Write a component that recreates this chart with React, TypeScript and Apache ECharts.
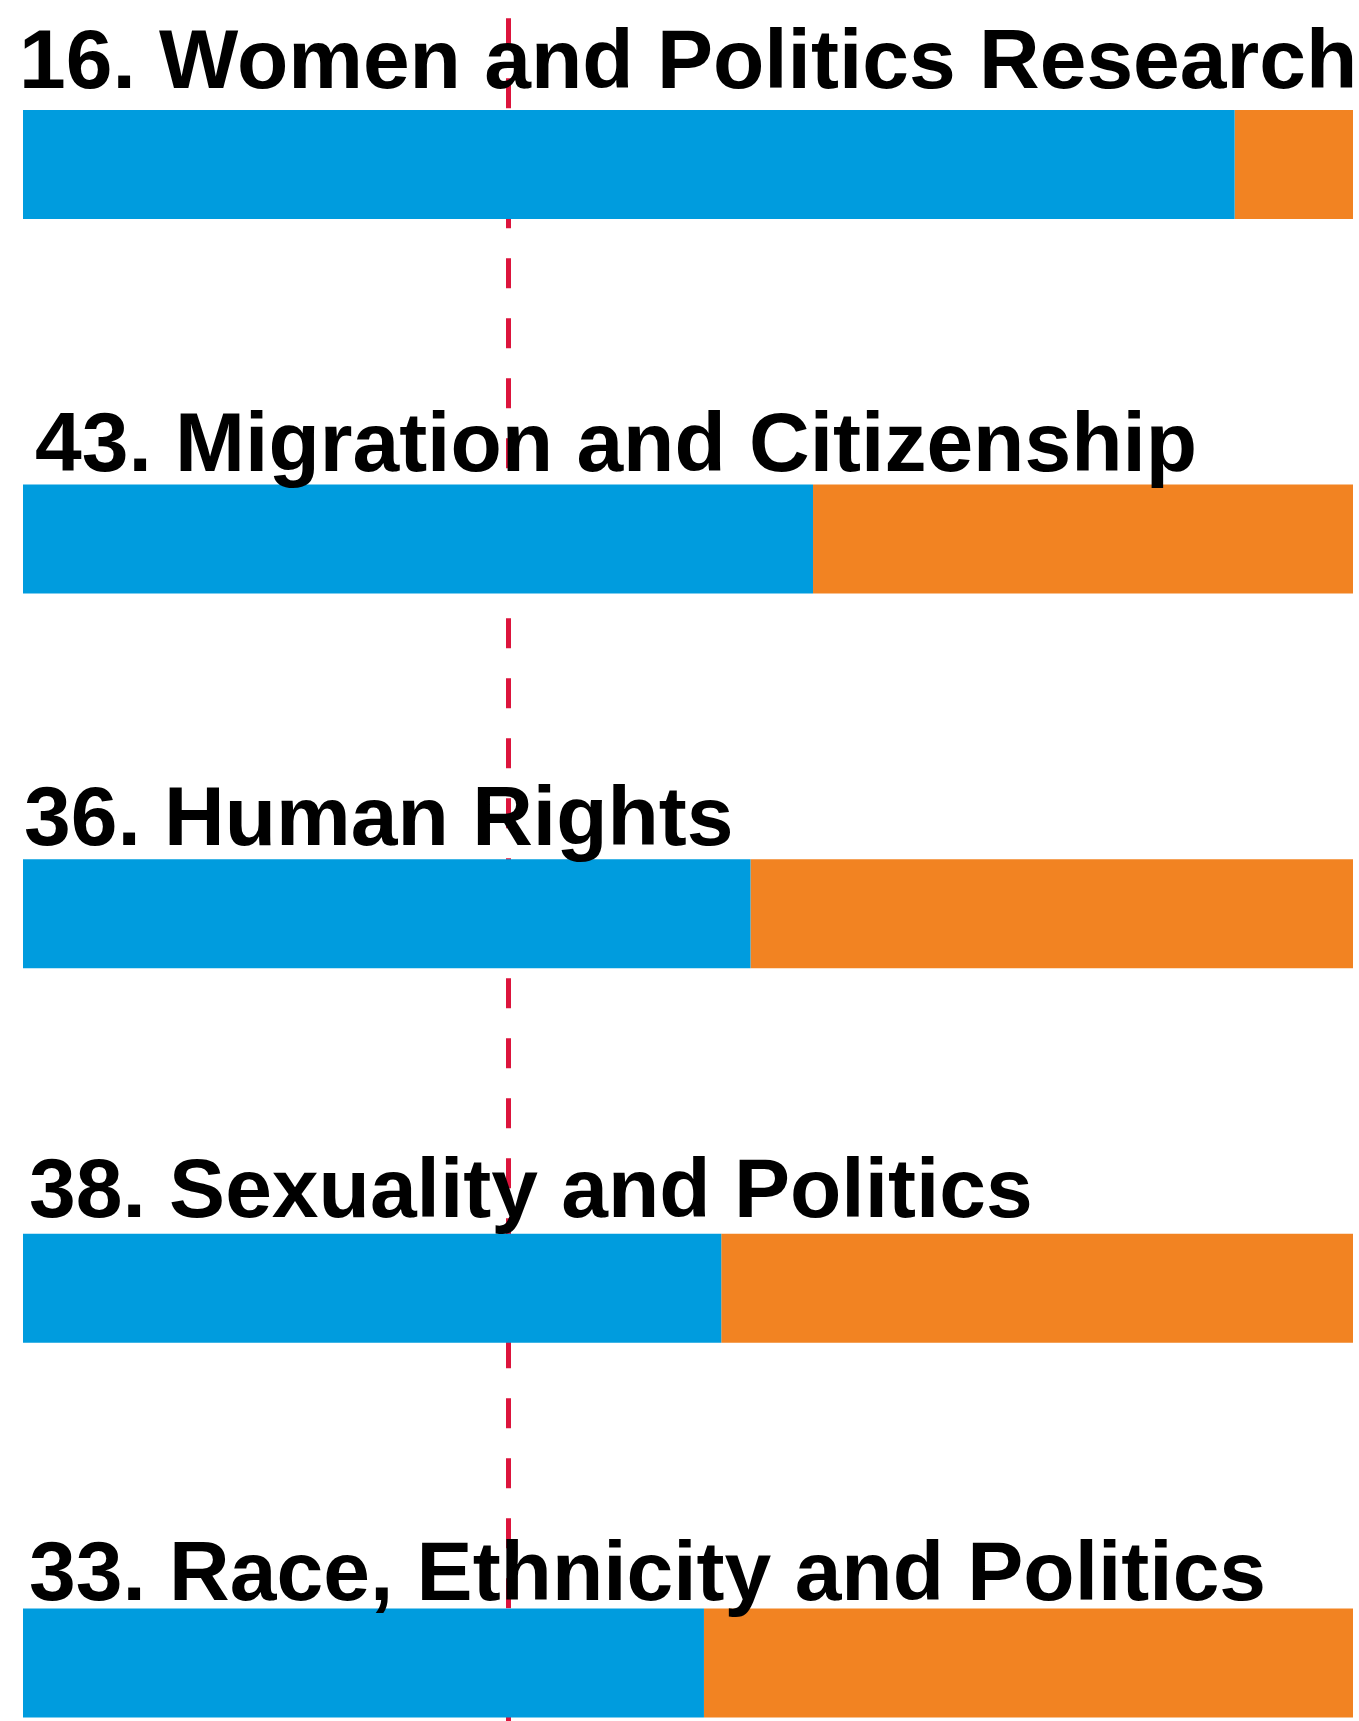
import React, { useEffect, useRef } from "react";
import * as echarts from "echarts";

const categories = [
  "16. Women and Politics Research",
  "43. Migration and Citizenship",
  "36. Human Rights",
  "38. Sexuality and Politics",
  "33. Race, Ethnicity and Politics",
];
const womenShare = [91.1, 59.4, 54.7, 52.5, 51.2];
const menShare = [8.9, 40.6, 45.3, 47.5, 48.8];
const referenceShare = 36.5;

// per-title placement nudges (layout only)
const labelDx = [-4, 12, 1, 6, 6];
const labelDy = [-8.6, -0.3, -1.6, -4, 4.4];

export default function App() {
  const ref = useRef<HTMLDivElement>(null);
  useEffect(() => {
    if (!ref.current) return;
    const chart = echarts.init(ref.current, null, { renderer: "svg" });
    const font = "'Liberation Sans', Arial, Helvetica, sans-serif";
    chart.setOption({
      animation: false,
      grid: { left: 23, right: 6, top: -22.8, height: 1873, outerBoundsMode: "none", containLabel: false },
      xAxis: { type: "value", min: 0, max: 100, show: false },
      yAxis: { type: "category", data: categories, inverse: true, show: false },
      series: [
        {
          type: "bar",
          stack: "s",
          z: 3,
          barWidth: 109,
          itemStyle: { color: "#009CDE" },
          data: womenShare.map((v, i) => ({
            value: v,
            label: {
              show: true,
              position: [labelDx[i], labelDy[i]],
              align: "left",
              verticalAlign: "bottom",
              formatter: "{b}",
              color: "#000",
              fontSize: 84,
              fontWeight: "bold",
              fontFamily: font,
            },
          })),
          markLine: {
            silent: true,
            z: 1,
            symbol: "none",
            label: { show: false },
            lineStyle: { color: "#DC143C", width: 5, type: [30, 30], dashOffset: 19.2 },
            data: [{ xAxis: referenceShare }],
          },
        },
        {
          type: "bar",
          stack: "s",
          z: 2,
          barWidth: 109,
          itemStyle: { color: "#F28322" },
          data: menShare,
        },
      ],
    });
    return () => chart.dispose();
  }, []);
  return (
    <div
      ref={ref}
      style={{ position: "absolute", left: 0, top: 0, width: 1359, height: 1721 }}
    />
  );
}
